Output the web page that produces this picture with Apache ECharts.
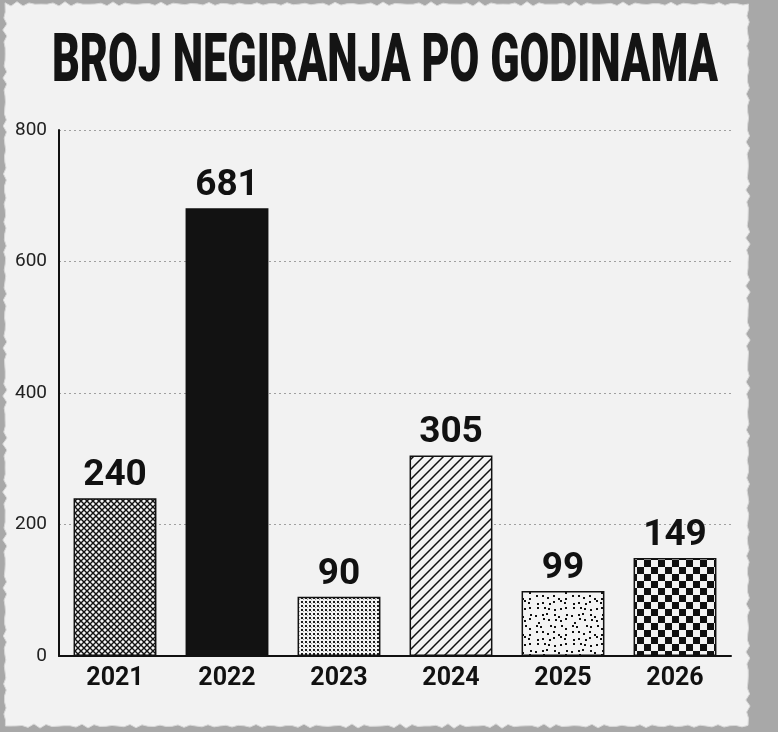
<!DOCTYPE html>
<html>
<head>
<meta charset="utf-8">
<script src="https://cdn.jsdelivr.net/npm/echarts@6/dist/echarts.min.js"></script>
<style>
  html, body { margin: 0; padding: 0; background: #a8a8a8; }
  #main { width: 778px; height: 732px; }
</style>
</head>
<body>
<div id="main"></div>
<script>
// data
const years = ['2021', '2022', '2023', '2024', '2025', '2026'];
const counts = [240, 681, 90, 305, 99, 149];
const yMin = 0, yMax = 800, yStep = 200;
const titleText = 'BROJ NEGIRANJA PO GODINAMA';

// --- pattern tiles for the bars ---
function tile(w, h, draw) {
  const c = document.createElement('canvas');
  c.width = w; c.height = h;
  const ctx = c.getContext('2d');
  ctx.fillStyle = '#f4f4f4';
  ctx.fillRect(0, 0, w, h);
  ctx.fillStyle = '#111';
  ctx.strokeStyle = '#111';
  draw(ctx, w, h);
  return { image: c, repeat: 'repeat' };
}

const crossHatch = tile(6, 6, (ctx) => {
  ctx.lineWidth = 1.4;
  ctx.beginPath();
  ctx.moveTo(-1, -1); ctx.lineTo(7, 7);
  ctx.moveTo(-1, 7); ctx.lineTo(7, -1);
  ctx.stroke();
});
const solid = '#121212';
const fineDots = tile(4, 4, (ctx) => {
  ctx.fillStyle = '#1e1e1e';
  ctx.fillRect(1, 1, 2, 2);
  ctx.fillStyle = '#9a9a9a';
  ctx.fillRect(3, 3, 1, 1);
});
const diagLines = tile(10, 10, (ctx) => {
  ctx.lineWidth = 1.5;
  ctx.beginPath();
  ctx.moveTo(-2, 12); ctx.lineTo(12, -2);
  ctx.moveTo(-7, 7); ctx.lineTo(7, -7);
  ctx.moveTo(3, 17); ctx.lineTo(17, 3);
  ctx.stroke();
});
const stipple = tile(36, 36, (ctx) => {
  // fixed scattered dot texture (deterministic)
  let s = 7;
  const rnd = () => { s = (s * 9301 + 49297) % 233280; return s / 233280; };
  for (let gy = 0; gy < 6; gy++) {
    for (let gx = 0; gx < 6; gx++) {
      const x = gx * 6 + rnd() * 4;
      const y = gy * 6 + rnd() * 4;
      ctx.fillRect(Math.round(x), Math.round(y), 2, 2);
    }
  }
});
const checker = tile(14, 14, (ctx) => {
  ctx.fillRect(0, 0, 7, 7);
  ctx.fillRect(7, 7, 7, 7);
});
const barFills = [crossHatch, solid, fineDots, diagLines, stipple, checker];

// --- torn paper shape ---
function paperPoints() {
  const pts = [];
  const L = 5, T = 4, R = 748, B = 726;
  const j = (i, k) => Math.sin(i * 1.7 + k) * 1.2 + Math.sin(i * 0.53 + k * 2) * 1.1;
  for (let x = L; x <= R; x += 6) pts.push([x, T + j(x, 1)]);
  for (let y = T; y <= B; y += 6) pts.push([R + j(y, 2), y]);
  for (let x = R; x >= L; x -= 6) pts.push([x, B + j(x, 3)]);
  for (let y = B; y >= T; y -= 6) pts.push([L + j(y, 4), y]);
  return pts;
}

// --- title, squeezed to a condensed look ---
const titleFont = '900 66px Roboto';
const meas = document.createElement('canvas').getContext('2d');
meas.font = titleFont;
const titleW = meas.measureText(titleText).width;
const titleScale = 666 / titleW;

const chart = echarts.init(document.getElementById('main'));
chart.setOption({
  backgroundColor: '#a8a8a8',
  animation: false,
  graphic: [
    {
      type: 'polygon', z: -10, silent: true,
      shape: { points: paperPoints() },
      style: { fill: '#f2f2f2', stroke: '#d8d8d8', lineWidth: 1 }
    },
    {
      type: 'text', x: 385, y: 64, scaleX: titleScale, z: 10,
      style: {
        text: titleText, x: 0, y: 0,
        font: titleFont, fill: '#141414',
        align: 'center', verticalAlign: 'middle'
      }
    }
  ],
  grid: { left: 59, right: 47, top: 130, bottom: 76 },
  xAxis: {
    type: 'category',
    data: years,
    axisLine: { lineStyle: { color: '#111', width: 2 } },
    axisTick: { show: false },
    axisLabel: {
      color: '#111', fontFamily: 'Roboto', fontWeight: 'bold', fontSize: 25, margin: 10
    }
  },
  yAxis: {
    type: 'value', min: yMin, max: yMax, interval: yStep,
    axisLine: { show: true, lineStyle: { color: '#111', width: 2 } },
    axisTick: { show: false },
    axisLabel: { color: '#222', fontFamily: 'Roboto', fontSize: 19, margin: 12 },
    splitLine: { lineStyle: { color: '#a0a0a0', width: 1, type: [2, 3] } }
  },
  series: [{
    type: 'bar',
    barCategoryGap: '26%',
    data: counts.map((v, i) => ({
      value: v,
      itemStyle: { color: barFills[i], borderColor: '#111', borderWidth: 1.5 }
    })),
    label: {
      show: true, position: 'top', distance: 4,
      color: '#111', fontFamily: 'Roboto', fontWeight: 'bold', fontSize: 37
    }
  }]
});
</script>
</body>
</html>
